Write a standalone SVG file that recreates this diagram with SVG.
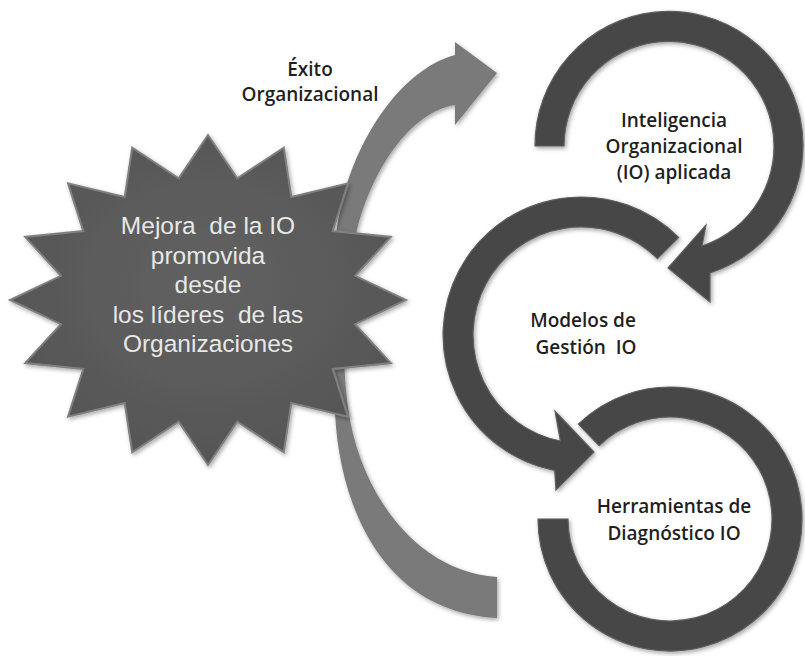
<svg xmlns="http://www.w3.org/2000/svg" width="805" height="656" viewBox="0 0 805 656">
  <defs>
    <filter id="sh" x="-10%" y="-10%" width="120%" height="120%">
      <feDropShadow dx="1.5" dy="2" stdDeviation="2" flood-color="#000" flood-opacity="0.35"/>
    </filter>
    <radialGradient id="starGrad" cx="50%" cy="45%" r="60%">
      <stop offset="0" stop-color="#616161"/>
      <stop offset="1" stop-color="#555555"/>
    </radialGradient>
  </defs>
  <style>
    .ring { fill: #474747; stroke: #5e5e5e; stroke-width: 1.2; filter: url(#sh); }
    .band { fill: #7a7a7a; filter: url(#sh); }
    .lbl { font-family: "Open Sans", "Liberation Sans", sans-serif; font-weight: 600; font-size: 19px; fill: #1f1f1f; text-anchor: middle; }
    .star-txt { font-family: "Liberation Sans", Arial, sans-serif; font-size: 24.5px; fill: #e8e8e8; text-anchor: middle; }
  </style>
  <rect width="805" height="656" fill="#ffffff"/>

  <g id="connectors">
    <path id="exito-arrow" class="band" d="M 455 42 L 497 73 L 455 125 L 455 105 C 410 112, 372 170, 357 230 C 342 290, 340 360, 350 420 C 365 500, 420 572, 497 577 L 497 618 C 385 612, 340 510, 335 413 C 326 360, 328 270, 340 210 C 355 140, 400 70, 455 55 Z"/>
  </g>

  <g id="star">
    <polygon filter="url(#sh)" fill="url(#starGrad)" stroke="#808080" stroke-width="2" stroke-linejoin="miter"
      points="208,135 237.3,178.4 283.8,147.6 291.3,196.9 348,183.3 332.7,231.1 390.9,236.9 355.1,275.8 406,300 355.1,324.2 390.9,363.1 332.7,368.9 348,416.7 291.3,403.1 283.8,452.4 237.3,421.6 208,465 178.7,421.6 132.2,452.4 124.7,403.1 68,416.7 83.3,368.9 25.1,363.1 60.9,324.2 10,300 60.9,275.8 25.1,236.9 83.3,231.1 68,183.3 124.7,196.9 132.2,147.6 178.7,178.4"/>
    <text class="star-txt" x="208" y="234" xml:space="preserve">Mejora  de la IO</text>
    <text class="star-txt" x="208" y="263.5">promovida</text>
    <text class="star-txt" x="208" y="293">desde</text>
    <text class="star-txt" x="208" y="322.5" xml:space="preserve">los líderes  de las</text>
    <text class="star-txt" x="208" y="352">Organizaciones</text>
  </g>

  <g id="exito-label">
    <text class="lbl" x="310" y="75.5">Éxito</text>
    <text class="lbl" x="310" y="101">Organizacional</text>
  </g>

  <g id="node-inteligencia">
    <path class="ring" d="M 535 146 A 134 134 0 1 1 710 273 L 710 302 L 668 268 L 706 225 L 702 246 A 105 105 0 1 0 564 146 Z"/>
    <text class="lbl" x="674" y="127">Inteligencia</text>
    <text class="lbl" x="674" y="153">Organizacional</text>
    <text class="lbl" x="674" y="179">(IO) aplicada</text>
  </g>

  <g id="node-modelos">
    <path class="ring" d="M 678.6 237.4 A 138 138 0 1 0 554.7 470.5 L 556 490 L 594 452 L 555 411 L 560.4 441 A 108 108 0 1 1 657.4 258.6 Z"/>
    <text class="lbl" x="583" y="327">Modelos de</text>
    <text class="lbl" x="586" y="354" xml:space="preserve">Gestión  IO</text>
  </g>

  <g id="node-herramientas">
    <path class="ring" d="M 578.3 424.1 A 132 132 0 1 1 538 519 L 568 519 A 102 102 0 1 0 599.1 445.7 Z"/>
    <text class="lbl" x="674" y="513">Herramientas de</text>
    <text class="lbl" x="674" y="540">Diagnóstico IO</text>
  </g>
</svg>
